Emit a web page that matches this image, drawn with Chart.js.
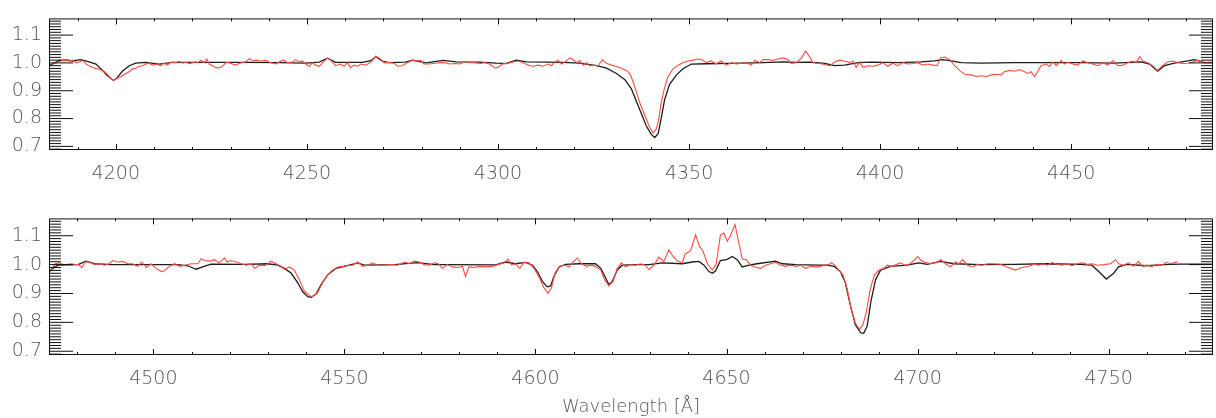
<!DOCTYPE html>
<html>
<head>
<meta charset="utf-8">
<script src="https://cdn.jsdelivr.net/npm/chart.js@4.4.1/dist/chart.umd.min.js"></script>
<style>
  body { margin: 0; background: #fff; }
  #wrap { position: relative; width: 1216px; height: 418px; }
  canvas { position: absolute; left: 0; }
</style>
</head>
<body>
<div id="wrap">
  <canvas id="topChart" width="1216" height="195" style="top:0px"></canvas>
  <canvas id="bottomChart" width="1216" height="218" style="top:200px"></canvas>
</div>
<script>
// tick labels
const topTicks = [4200, 4250, 4300, 4350, 4400, 4450];
const bottomTicks = [4500, 4550, 4600, 4650, 4700, 4750];
const fluxTicks = [0.7, 0.8, 0.9, 1.0, 1.1];
const axisTitle = "Wavelength [Å]";

// top panel, model spectrum (black)
const topModelWave = [4182.6, 4185.2, 4186.9, 4188.7, 4190.8, 4193.0, 4194.8, 4196.5, 4197.8, 4199.4,
  4200.4, 4201.7, 4203.5, 4205.2, 4207.8, 4211.3, 4214.8, 4225.3, 4234.0, 4242.7,
  4249.7, 4253.2, 4255.4, 4257.5, 4264.5, 4266.7, 4268.0, 4269.7, 4271.5, 4275.8,
  4277.6, 4281.1, 4285.6, 4289.1, 4295.2, 4299.6, 4302.2, 4304.8, 4307.4, 4312.7,
  4317.0, 4321.4, 4325.7, 4328.4, 4331.0, 4333.2, 4334.9, 4336.2, 4337.5, 4338.8,
  4340.1, 4341.0, 4341.9, 4342.7, 4343.6, 4344.9, 4346.7, 4348.4, 4350.6, 4354.5,
  4360.6, 4369.3, 4374.6, 4378.1, 4381.5, 4385.5, 4388.1, 4390.7, 4394.2, 4397.7,
  4404.6, 4410.7, 4414.2, 4416.4, 4418.6, 4421.2, 4426.4, 4435.2, 4443.9, 4452.6,
  4461.3, 4468.3, 4470.5, 4472.6, 4474.4, 4477.0, 4480.5, 4482.2, 4484.9, 4487.0];
const topModelFlux = [0.990, 1.009, 1.011, 1.007, 1.012, 1.004, 0.996, 0.973, 0.954, 0.937,
  0.948, 0.970, 0.990, 0.999, 1.002, 0.996, 1.002, 1.002, 1.002, 1.001,
  0.999, 1.003, 1.017, 1.002, 1.002, 1.008, 1.023, 1.006, 1.001, 1.003,
  1.010, 1.000, 1.009, 1.004, 1.003, 0.999, 0.998, 1.010, 1.004, 1.003,
  1.002, 0.999, 0.990, 0.981, 0.962, 0.940, 0.907, 0.862, 0.818, 0.773,
  0.743, 0.732, 0.746, 0.801, 0.868, 0.923, 0.957, 0.979, 0.996, 0.997,
  0.998, 1.001, 1.004, 1.002, 1.003, 0.998, 0.990, 0.992, 1.001, 1.003,
  1.001, 1.004, 1.007, 1.012, 1.007, 1.001, 0.999, 1.001, 1.001, 1.001,
  0.999, 1.004, 0.996, 0.970, 0.990, 0.999, 1.007, 1.012, 1.001, 1.001];

// top panel, observed spectrum (red)
const topObsWave = [4183.0, 4184.3, 4185.6, 4186.5, 4187.8, 4188.7, 4189.5, 4190.4, 4191.3, 4192.2,
  4193.0, 4194.3, 4195.6, 4196.9, 4197.8, 4198.7, 4199.4, 4200.2, 4200.9, 4201.7,
  4202.6, 4203.5, 4204.4, 4205.2, 4206.1, 4207.0, 4207.8, 4208.7, 4209.6, 4210.5,
  4211.8, 4212.6, 4213.5, 4214.4, 4215.7, 4216.6, 4217.4, 4218.3, 4219.2, 4220.1,
  4220.9, 4221.4, 4222.2, 4223.1, 4223.8, 4224.4, 4225.3, 4226.2, 4227.0, 4227.9,
  4228.8, 4229.6, 4230.5, 4231.4, 4232.3, 4233.1, 4234.0, 4235.0, 4235.7, 4236.6,
  4237.9, 4239.2, 4240.5, 4241.8, 4243.2, 4244.0, 4244.9, 4246.2, 4247.1, 4248.0,
  4248.8, 4249.7, 4250.6, 4251.4, 4252.3, 4253.2, 4254.1, 4255.4, 4256.2, 4257.5,
  4258.8, 4259.7, 4260.6, 4261.4, 4262.3, 4263.2, 4264.1, 4265.4, 4266.7, 4268.0,
  4268.9, 4270.2, 4271.5, 4272.8, 4273.7, 4275.0, 4276.3, 4277.6, 4278.9, 4279.8,
  4280.6, 4281.9, 4283.5, 4284.8, 4286.1, 4287.4, 4288.7, 4290.0, 4291.3, 4292.6,
  4293.9, 4295.2, 4296.5, 4297.8, 4299.2, 4300.0, 4301.3, 4302.6, 4303.9, 4305.2,
  4306.6, 4307.9, 4309.2, 4310.5, 4311.8, 4313.1, 4314.0, 4314.8, 4315.7, 4316.6,
  4317.5, 4318.8, 4319.6, 4320.5, 4321.4, 4322.3, 4323.1, 4324.0, 4324.9, 4326.2,
  4327.3, 4328.4, 4329.7, 4331.0, 4332.3, 4333.6, 4334.5, 4335.3, 4336.2, 4337.1,
  4338.4, 4339.7, 4340.6, 4341.4, 4342.1, 4342.7, 4343.6, 4344.5, 4345.8, 4347.1,
  4348.4, 4349.7, 4351.0, 4352.3, 4353.2, 4354.5, 4355.8, 4357.1, 4358.4, 4359.7,
  4361.1, 4362.4, 4363.7, 4365.0, 4366.3, 4367.2, 4368.5, 4369.3, 4370.6, 4371.9,
  4373.2, 4374.6, 4375.9, 4376.7, 4378.1, 4379.4, 4380.5, 4381.5, 4382.4, 4383.3,
  4384.2, 4385.5, 4386.8, 4388.1, 4389.4, 4390.7, 4392.0, 4392.9, 4393.7, 4394.6,
  4395.5, 4396.8, 4398.1, 4399.4, 4400.7, 4402.0, 4403.3, 4404.6, 4406.0, 4407.3,
  4408.6, 4409.9, 4411.2, 4412.5, 4413.8, 4414.9, 4415.8, 4416.9, 4418.2, 4419.5,
  4420.8, 4422.1, 4423.8, 4425.1, 4426.4, 4427.8, 4429.1, 4430.4, 4431.7, 4432.5,
  4433.9, 4435.2, 4436.5, 4437.8, 4438.6, 4439.5, 4440.4, 4441.3, 4442.1, 4443.4,
  4444.3, 4445.2, 4446.1, 4447.4, 4448.2, 4449.1, 4450.4, 4451.7, 4453.0, 4454.3,
  4455.6, 4457.0, 4458.3, 4459.6, 4460.9, 4462.2, 4463.5, 4464.8, 4466.1, 4467.0,
  4467.9, 4468.7, 4470.0, 4471.3, 4472.6, 4473.9, 4475.2, 4476.5, 4477.9, 4479.2,
  4480.5, 4481.8, 4483.1, 4484.9, 4487.0];
const topObsFlux = [0.996, 1.001, 1.007, 1.011, 1.007, 1.010, 1.001, 1.003, 1.009, 0.996,
  0.990, 0.982, 0.977, 0.970, 0.959, 0.943, 0.937, 0.943, 0.948, 0.954,
  0.962, 0.968, 0.979, 0.981, 0.988, 0.990, 0.996, 0.999, 0.992, 0.996,
  0.990, 0.999, 0.992, 1.003, 1.001, 1.006, 0.999, 1.003, 0.997, 1.001,
  1.004, 1.000, 1.010, 1.001, 1.014, 0.996, 0.990, 0.983, 0.982, 0.988,
  1.001, 1.001, 0.996, 0.992, 0.999, 1.001, 1.004, 1.016, 1.007, 1.010,
  1.007, 1.009, 1.001, 0.996, 1.007, 1.010, 1.001, 1.003, 1.012, 1.003,
  1.007, 0.996, 0.988, 1.001, 0.992, 0.988, 1.001, 1.017, 1.010, 0.990,
  0.996, 0.988, 1.001, 0.983, 0.992, 0.988, 0.996, 0.992, 1.003, 1.023,
  1.018, 1.001, 1.001, 0.999, 0.988, 0.990, 1.001, 1.010, 1.007, 1.009,
  0.996, 0.996, 0.999, 1.001, 1.001, 0.996, 0.998, 0.996, 1.004, 1.002,
  1.001, 0.997, 1.001, 0.996, 0.982, 0.984, 0.997, 0.999, 1.003, 1.007,
  1.001, 0.992, 0.988, 0.992, 0.988, 0.996, 0.990, 1.003, 1.010, 0.996,
  1.003, 1.018, 1.012, 1.001, 1.009, 0.992, 1.001, 0.990, 0.992, 0.990,
  1.011, 0.999, 0.992, 0.987, 0.981, 0.973, 0.962, 0.934, 0.896, 0.857,
  0.812, 0.768, 0.748, 0.762, 0.801, 0.857, 0.912, 0.951, 0.979, 0.992,
  1.001, 1.007, 1.010, 1.014, 1.012, 1.001, 1.007, 0.996, 1.007, 0.992,
  1.001, 0.996, 0.999, 1.001, 0.992, 1.010, 1.001, 1.012, 1.012, 1.009,
  1.014, 1.018, 1.012, 0.998, 1.001, 1.018, 1.043, 1.023, 1.001, 0.999,
  0.998, 0.994, 0.990, 1.003, 1.010, 1.007, 1.001, 1.007, 0.984, 1.003,
  0.984, 0.990, 0.988, 0.992, 1.001, 0.988, 0.999, 0.990, 1.001, 0.996,
  0.998, 1.001, 0.992, 0.996, 0.992, 0.990, 1.018, 1.021, 1.012, 0.990,
  0.973, 0.959, 0.957, 0.951, 0.954, 0.951, 0.957, 0.959, 0.957, 0.968,
  0.973, 0.970, 0.976, 0.968, 0.962, 0.968, 0.951, 0.970, 0.990, 0.996,
  0.988, 1.003, 0.990, 1.009, 0.996, 1.003, 0.996, 0.992, 1.007, 1.001,
  0.996, 0.990, 1.001, 0.992, 1.009, 0.990, 0.992, 1.001, 1.007, 1.001,
  1.023, 1.007, 1.001, 0.990, 0.973, 0.990, 1.003, 1.007, 1.001, 0.998,
  0.999, 1.003, 1.010, 1.001, 1.003];

// bottom panel, model spectrum (black)
const bottomModelWave = [4472.6, 4473.7, 4475.0, 4477.6, 4480.3, 4482.4, 4484.6, 4489.0, 4497.7, 4506.4,
  4509.0, 4511.2, 4512.9, 4515.1, 4523.9, 4530.0, 4532.6, 4534.3, 4536.1, 4537.8,
  4539.1, 4540.4, 4541.3, 4542.6, 4543.9, 4545.6, 4547.8, 4550.0, 4553.5, 4555.2,
  4563.1, 4569.2, 4573.5, 4575.6, 4589.6, 4592.2, 4594.8, 4597.4, 4599.2, 4600.5,
  4601.8, 4603.1, 4604.0, 4604.8, 4606.2, 4607.9, 4611.4, 4615.7, 4617.1, 4618.4,
  4619.2, 4620.1, 4621.4, 4622.7, 4626.2, 4629.7, 4633.2, 4638.4, 4641.0, 4642.8,
  4644.1, 4645.4, 4646.3, 4647.1, 4648.4, 4650.2, 4651.5, 4652.8, 4654.1, 4655.9,
  4658.0, 4662.8, 4664.6, 4668.1, 4674.2, 4676.3, 4678.1, 4679.8, 4681.1, 4682.4,
  4683.7, 4685.1, 4685.9, 4686.8, 4687.8, 4689.0, 4690.3, 4692.9, 4697.3, 4700.3,
  4702.5, 4706.0, 4709.5, 4716.4, 4725.2, 4733.9, 4742.6, 4745.6, 4747.4, 4749.4,
  4751.3, 4752.6, 4754.8, 4760.0, 4764.4, 4768.8, 4777.0];
const bottomModelFlux = [0.972, 0.987, 0.998, 0.999, 1.000, 1.012, 1.003, 1.000, 1.000, 1.000,
  0.996, 0.984, 0.992, 1.002, 1.001, 1.003, 0.998, 0.987, 0.970, 0.937,
  0.906, 0.889, 0.887, 0.898, 0.931, 0.964, 0.987, 0.994, 1.006, 0.998,
  1.000, 1.007, 1.000, 1.000, 0.999, 1.009, 1.003, 1.008, 0.998, 0.976,
  0.942, 0.923, 0.926, 0.959, 0.992, 1.001, 1.003, 1.003, 0.987, 0.953,
  0.931, 0.942, 0.981, 0.998, 1.000, 1.000, 1.006, 1.003, 1.009, 1.011,
  0.998, 0.976, 0.970, 0.978, 1.014, 1.018, 1.028, 1.017, 0.992, 0.998,
  1.003, 1.012, 1.003, 1.000, 0.998, 0.998, 0.994, 0.976, 0.937, 0.859,
  0.792, 0.764, 0.762, 0.787, 0.874, 0.948, 0.981, 0.994, 0.998, 1.006,
  1.001, 1.011, 1.003, 1.000, 1.001, 1.003, 1.001, 0.998, 0.976, 0.950,
  0.970, 0.992, 1.001, 0.996, 1.000, 1.002, 1.002];

// bottom panel, observed spectrum (red)
const bottomObsWave = [4472.6, 4473.5, 4474.3, 4475.5, 4476.8, 4478.1, 4479.4, 4480.3, 4481.3, 4482.2,
  4483.3, 4484.6, 4485.9, 4487.2, 4488.5, 4489.4, 4490.7, 4492.0, 4493.3, 4494.6,
  4495.9, 4497.0, 4498.1, 4499.4, 4500.7, 4502.1, 4502.9, 4504.2, 4505.5, 4506.9,
  4508.2, 4509.9, 4511.7, 4512.5, 4513.4, 4514.7, 4516.0, 4517.3, 4518.6, 4519.3,
  4520.4, 4521.7, 4523.0, 4524.3, 4525.6, 4526.5, 4527.8, 4529.1, 4530.0, 4530.8,
  4532.1, 4533.5, 4534.3, 4535.6, 4536.9, 4538.2, 4539.5, 4540.9, 4541.7, 4543.0,
  4544.3, 4545.6, 4546.9, 4548.3, 4549.6, 4550.9, 4552.2, 4553.5, 4554.8, 4556.1,
  4557.4, 4558.7, 4560.5, 4562.2, 4564.0, 4565.7, 4567.0, 4568.3, 4569.6, 4570.9,
  4572.3, 4573.5, 4574.6, 4575.6, 4576.9, 4578.3, 4579.6, 4580.9, 4581.7, 4582.6,
  4583.9, 4585.2, 4587.0, 4588.7, 4590.5, 4591.8, 4592.8, 4593.8, 4594.8, 4595.9,
  4597.0, 4598.3, 4599.6, 4600.9, 4602.2, 4603.3, 4604.2, 4605.1, 4606.2, 4607.5,
  4608.8, 4609.8, 4610.9, 4612.1, 4613.3, 4614.4, 4615.7, 4617.1, 4618.1, 4619.2,
  4620.3, 4621.4, 4622.5, 4623.6, 4624.9, 4626.2, 4627.5, 4628.8, 4629.7, 4631.0,
  4632.3, 4633.6, 4634.9, 4636.0, 4637.1, 4638.4, 4639.2, 4640.6, 4641.9, 4642.9,
  4643.8, 4645.0, 4646.3, 4647.3, 4648.4, 4649.3, 4650.2, 4651.0, 4652.2, 4653.2,
  4654.1, 4655.2, 4656.3, 4657.6, 4658.9, 4660.2, 4661.5, 4662.8, 4664.2, 4665.4,
  4666.7, 4668.1, 4669.4, 4670.7, 4672.0, 4673.3, 4674.2, 4675.5, 4676.8, 4677.4,
  4678.3, 4679.4, 4680.5, 4681.6, 4682.6, 4683.7, 4684.8, 4685.7, 4686.6, 4687.6,
  4688.7, 4689.9, 4691.2, 4692.0, 4693.3, 4694.6, 4695.5, 4696.8, 4698.1, 4699.0,
  4700.0, 4701.2, 4702.5, 4703.8, 4705.1, 4706.1, 4707.3, 4708.6, 4709.9, 4710.8,
  4711.8, 4713.0, 4714.3, 4715.6, 4716.9, 4718.2, 4719.9, 4721.7, 4723.4, 4725.6,
  4727.3, 4729.1, 4730.4, 4731.7, 4733.0, 4733.9, 4735.2, 4736.5, 4737.8, 4739.1,
  4740.4, 4741.7, 4743.0, 4744.4, 4745.7, 4747.0, 4748.7, 4750.5, 4751.8, 4752.6,
  4753.9, 4755.2, 4756.5, 4757.8, 4758.7, 4760.0, 4761.3, 4762.7, 4764.0, 4765.1,
  4766.1, 4767.0, 4768.1];
const bottomObsFlux = [0.970, 0.987, 1.003, 1.006, 0.998, 1.003, 1.001, 1.000, 0.990, 1.009,
  1.009, 1.000, 1.003, 0.998, 1.003, 1.014, 1.009, 1.011, 1.003, 1.003,
  0.994, 1.009, 0.990, 1.003, 0.987, 0.976, 0.979, 0.994, 1.003, 0.994,
  0.998, 1.003, 1.003, 1.020, 1.014, 1.012, 1.017, 1.006, 1.023, 1.009,
  1.014, 1.009, 1.003, 0.998, 1.003, 0.987, 0.998, 0.996, 1.003, 1.012,
  1.003, 0.994, 0.983, 0.992, 0.981, 0.948, 0.909, 0.892, 0.889, 0.903,
  0.937, 0.964, 0.981, 0.992, 0.994, 0.998, 0.998, 1.009, 0.994, 0.998,
  1.006, 0.998, 0.998, 1.000, 0.998, 1.009, 1.003, 1.012, 1.009, 1.000,
  0.998, 1.006, 1.003, 0.987, 1.000, 0.992, 0.990, 0.994, 0.959, 0.992,
  0.990, 0.994, 0.992, 0.994, 1.001, 1.006, 1.018, 0.998, 1.003, 0.987,
  1.008, 1.006, 0.987, 0.959, 0.920, 0.901, 0.920, 0.970, 0.994, 0.998,
  0.992, 1.009, 1.023, 1.003, 0.994, 0.998, 0.994, 0.981, 0.948, 0.926,
  0.942, 0.987, 1.006, 0.992, 1.000, 0.998, 1.003, 0.998, 0.983, 0.998,
  1.026, 1.011, 1.051, 1.028, 1.014, 1.006, 1.037, 1.048, 1.103, 1.064,
  1.048, 1.003, 0.981, 1.003, 1.103, 1.109, 1.081, 1.099, 1.139, 1.076,
  1.020, 1.017, 0.998, 0.992, 0.987, 0.998, 1.003, 1.008, 0.998, 0.994,
  0.998, 0.994, 0.998, 0.987, 0.994, 0.992, 0.992, 0.998, 1.000, 1.007,
  0.998, 0.981, 0.964, 0.914, 0.848, 0.798, 0.776, 0.792, 0.837, 0.914,
  0.964, 0.981, 0.987, 0.998, 0.994, 1.001, 1.006, 0.998, 1.003, 1.014,
  1.028, 1.011, 1.006, 1.003, 1.009, 1.017, 1.003, 0.992, 1.009, 1.003,
  1.017, 0.998, 0.992, 1.000, 0.998, 1.003, 1.003, 1.001, 0.992, 0.981,
  0.990, 0.994, 1.001, 0.998, 1.003, 0.998, 1.007, 1.001, 0.998, 1.003,
  0.996, 1.003, 1.006, 1.001, 1.003, 0.998, 1.000, 1.003, 1.017, 1.003,
  0.998, 1.006, 0.994, 1.011, 0.994, 0.998, 0.994, 1.001, 0.998, 1.008,
  1.003, 1.006, 1.010];

const FONT = "'DejaVu Sans', sans-serif";
const TEXT = "#555";

const toPoints = (wave, flux) => wave.map((w, i) => ({ x: w, y: flux[i] }));

// box + IDL style inward ticks, drawn from the chart's own scales
const frameTicks = {
  id: "frameTicks",
  afterDraw(chart) {
    const { ctx, chartArea: a, scales } = chart;
    const x = scales.x, y = scales.y;
    ctx.save();
    ctx.strokeStyle = "#111";
    ctx.lineWidth = 1;
    ctx.beginPath();
    for (let i = Math.ceil(y.min * 100); i <= Math.floor(y.max * 100); i++) {
      const py = y.getPixelForValue(i / 100);
      const len = i % 10 === 0 ? 24 : 12;
      ctx.moveTo(a.left, py); ctx.lineTo(a.left + len, py);
      ctx.moveTo(a.right, py); ctx.lineTo(a.right - len, py);
    }
    for (let v = Math.ceil(x.min / 10) * 10; v <= x.max; v += 10) {
      const px = Math.round(x.getPixelForValue(v)) + 0.5;
      const len = v % 50 === 0 ? 6 : 3;
      ctx.moveTo(px, a.top); ctx.lineTo(px, a.top + len);
      ctx.moveTo(px, a.bottom); ctx.lineTo(px, a.bottom - len);
    }
    ctx.stroke();
    ctx.strokeRect(a.left + 0.5, a.top + 0.5, a.right - a.left - 1, a.bottom - a.top - 1);
    ctx.restore();
  },
};

const makePanel = (id, model, obs, xMin, xMax, xTicks, padTop, axisHeight, title) => {
  return new Chart(document.getElementById(id), {
    type: "line",
    data: {
      datasets: [
        { data: obs, borderColor: "rgb(255,75,65)", borderWidth: 1.1, pointRadius: 0, tension: 0 },
        { data: model, borderColor: "#1c1c1c", borderWidth: 1.3, pointRadius: 0, tension: 0 },
      ],
    },
    options: {
      responsive: false,
      animation: false,
      events: [],
      layout: { padding: { top: padTop, right: 3, left: 0, bottom: 0 } },
      plugins: { legend: { display: false }, tooltip: { enabled: false } },
      scales: {
        x: {
          type: "linear",
          min: xMin,
          max: xMax,
          grid: { display: false, drawTicks: false },
          border: { display: false },
          afterBuildTicks: (s) => { s.ticks = xTicks.map((v) => ({ value: v })); },
          afterFit: (s) => { s.height = axisHeight; },
          ticks: {
            autoSkip: false,
            maxRotation: 0,
            padding: 13,
            color: TEXT,
            font: { family: FONT, size: 19, weight: 300 },
            callback: (v) => String(v),
          },
          title: {
            display: !!title,
            text: title || "",
            color: TEXT,
            padding: 0,
            font: { family: FONT, size: 18, weight: 300 },
          },
        },
        y: {
          min: 0.687,
          max: 1.16,
          grid: { display: false, drawTicks: false },
          border: { display: false },
          afterBuildTicks: (s) => { s.ticks = fluxTicks.map((v) => ({ value: v })); },
          afterFit: (s) => { s.width = 49; },
          ticks: {
            padding: 7,
            color: TEXT,
            font: { family: FONT, size: 19, weight: 300 },
            callback: (v) => v.toFixed(1),
          },
        },
      },
    },
    plugins: [frameTicks],
  });
};

makePanel("topChart", toPoints(topModelWave, topModelFlux), toPoints(topObsWave, topObsFlux),
  4182.5, 4487.1, topTicks, 9, 45, null);
makePanel("bottomChart", toPoints(bottomModelWave, bottomModelFlux), toPoints(bottomObsWave, bottomObsFlux),
  4472.7, 4777.3, bottomTicks, 14, 63, axisTitle);
</script>
</body>
</html>
